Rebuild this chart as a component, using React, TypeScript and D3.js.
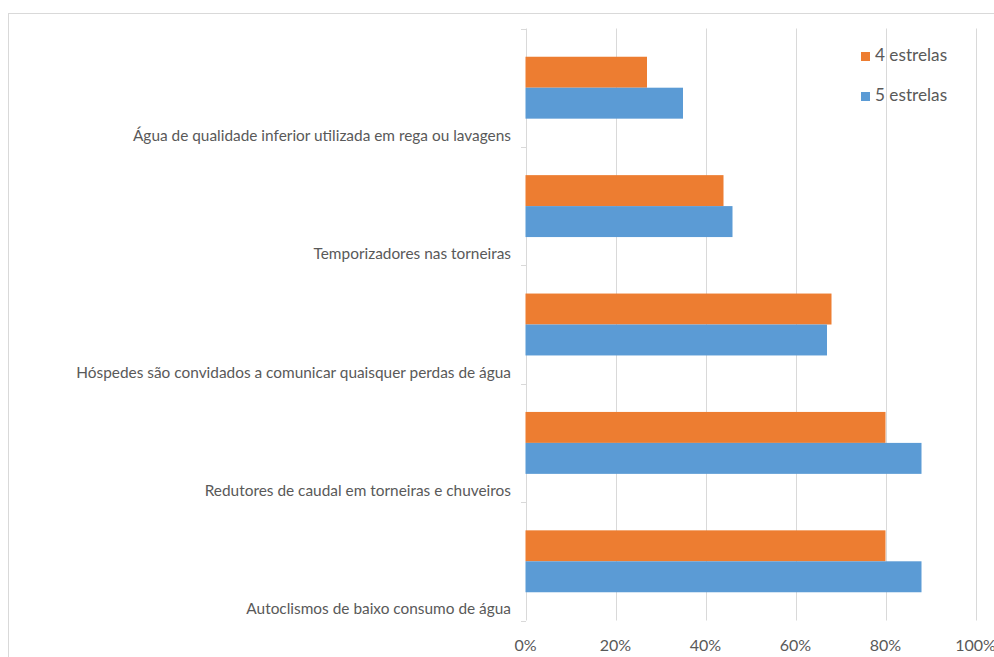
import React from "react";
import * as d3 from "d3";

const categories = [
  "Água de qualidade inferior utilizada em rega ou lavagens",
  "Temporizadores nas torneiras",
  "Hóspedes são convidados a comunicar quaisquer perdas de água",
  "Redutores de caudal em torneiras e chuveiros",
  "Autoclismos de baixo consumo de água",
];
const seriesNames = ["4 estrelas", "5 estrelas"];
const fourStars = [0.27, 0.44, 0.68, 0.8, 0.8];
const fiveStars = [0.35, 0.46, 0.67, 0.88, 0.88];
const xTicks = [0, 0.2, 0.4, 0.6, 0.8, 1.0];
const colors = ["#ED7D31", "#5B9BD5"];

const W = 994;
const H = 657;
const FONT = "Lato, 'Open Sans', sans-serif";

export default function App() {
  const x = d3.scaleLinear().domain([0, 1]).range([525.5, 975.5]);
  const yOuter = d3.scaleBand<string>().domain(categories).range([28.5, 620.5]).padding(0);
  const yGroup = d3
    .scaleBand<string>()
    .domain(categories)
    .range([28.5, 620.5])
    .paddingInner(0.477)
    .paddingOuter(0.2385);
  const ySub = d3.scaleBand<string>().domain(seriesNames).range([0, yGroup.bandwidth()]);
  const values = [fourStars, fiveStars];
  const fmt = d3.format(".0%");
  const step = yOuter.step();
  const boundaries = categories.map((c) => yOuter(c)!).concat([yOuter(categories[categories.length - 1])! + step]);

  return (
    <svg
      width={W}
      height={H}
      style={{ position: "absolute", left: 0, top: 0, background: "#fff" }}
      fontFamily={FONT}
    >
      <rect x={8.5} y={13.5} width={1200} height={800} fill="#fff" stroke="#D9D9D9" strokeWidth={1} />
      {/* gridlines */}
      {xTicks.map((t) => (
        <line
          key={"g" + t}
          x1={Math.round(x(t)) + 0.5}
          x2={Math.round(x(t)) + 0.5}
          y1={28.5}
          y2={620.5}
          stroke="#D9D9D9"
          strokeWidth={1}
        />
      ))}
      {/* category ticks */}
      {boundaries.map((b, i) => (
        <line key={"t" + i} x1={521} x2={526} y1={Math.round(b) + 0.5} y2={Math.round(b) + 0.5} stroke="#D9D9D9" />
      ))}
      {/* bars */}
      {categories.map((c, ci) =>
        seriesNames.map((s, si) => (
          <rect
            key={c + s}
            x={x(0)}
            y={yGroup(c)! + ySub(s)!}
            width={x(values[si][ci]) - x(0)}
            height={ySub.bandwidth()}
            fill={colors[si]}
          />
        ))
      )}
      {/* category labels */}
      {categories.map((c) => (
        <text
          key={"l" + c}
          x={511}
          y={yOuter(c)! + step - 10}
          textAnchor="end"
          dominantBaseline="middle"
          fontSize={15.4}
          fill="#595959"
        >
          {c}
        </text>
      ))}
      {/* x tick labels */}
      {xTicks.map((t) => (
        <text
          key={"x" + t}
          x={x(t)}
          y={647}
          textAnchor="middle"
          dominantBaseline="middle"
          fontSize={16}
          fill="#595959"
        >
          {fmt(t)}
        </text>
      ))}
      {/* legend */}
      {seriesNames.map((s, i) => (
        <g key={"lg" + s} transform={`translate(861, ${52 + i * 40})`}>
          <rect x={0} y={0} width={9} height={9} fill={colors[i]} />
          <text x={14} y={5} dominantBaseline="middle" fontSize={17.2} fill="#595959">
            {s}
          </text>
        </g>
      ))}
    </svg>
  );
}
